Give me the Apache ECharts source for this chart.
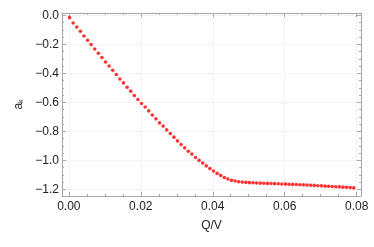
<!DOCTYPE html>
<html>
<head>
<meta charset="utf-8">
<script src="https://cdn.jsdelivr.net/npm/echarts@6/dist/echarts.min.js"></script>
<style>html,body{margin:0;padding:0;background:#fff;}#c{width:374px;height:247px;}</style>
</head>
<body>
<div id="c"></div>
<script>
var qv = [0.0002,0.0012,0.0022,0.0032,0.0042,0.0052,0.0062,0.0072,0.0082,0.0092,
          0.0102,0.0112,0.0122,0.0132,0.0142,0.0152,0.0162,0.0172,0.0182,0.0192,
          0.0202,0.0212,0.0222,0.0232,0.0242,0.0252,0.0262,0.0272,0.0282,0.0292,
          0.0302,0.0312,0.0322,0.0332,0.0342,0.0352,0.0362,0.0372,0.0382,0.0392,
          0.0402,0.0412,0.0422,0.0432,0.0442,0.0452,0.0462,0.0472,0.0482,0.0492,
          0.0502,0.0512,0.0522,0.0532,0.0542,0.0552,0.0562,0.0572,0.0582,0.0592,
          0.0602,0.0612,0.0622,0.0632,0.0642,0.0652,0.0662,0.0672,0.0682,0.0692,
          0.0702,0.0712,0.0722,0.0732,0.0742,0.0752,0.0762,0.0772,0.0782,0.0792];
var ak = [-0.016,-0.053,-0.081,-0.110,-0.143,-0.172,-0.202,-0.232,-0.262,-0.291,
          -0.322,-0.349,-0.379,-0.408,-0.439,-0.466,-0.496,-0.523,-0.553,-0.581,
          -0.608,-0.632,-0.659,-0.687,-0.714,-0.742,-0.764,-0.790,-0.815,-0.840,
          -0.866,-0.891,-0.914,-0.937,-0.957,-0.980,-1.000,-1.018,-1.038,-1.057,
          -1.074,-1.090,-1.104,-1.118,-1.129,-1.138,-1.143,-1.148,-1.150,-1.152,
          -1.154,-1.155,-1.156,-1.157,-1.158,-1.159,-1.160,-1.161,-1.162,-1.163,
          -1.164,-1.165,-1.166,-1.167,-1.168,-1.169,-1.171,-1.172,-1.173,-1.175,
          -1.176,-1.178,-1.179,-1.180,-1.182,-1.183,-1.185,-1.186,-1.188,-1.190];
var xTickLabels = ['0.00','0.02','0.04','0.06','0.08'];
var yTickLabels = ['0.0','\u22120.2','\u22120.4','\u22120.6','\u22120.8','\u22121.0','\u22121.2'];

var xMin = -0.0019, xMax = 0.0812, yMin = -1.246, yMax = 0.016;
var frame = '#a8a8a8', txt = '#222';
function near(v, step){ return Math.abs(v/step - Math.round(v/step)) < 1e-6; }
function xFmt(v){ if(!near(v,0.02)) return ''; var i=Math.round(v/0.02); return xTickLabels[i]||''; }
function yFmt(v){ if(!near(v,0.2)) return ''; var i=Math.round(-v/0.2); return yTickLabels[i]||''; }

function axisCommon(){
  return {
    axisLine:{show:true,onZero:false,lineStyle:{color:frame,width:1}},
    axisTick:{show:true,inside:true,length:4,lineStyle:{color:frame}},
    minorTick:{show:true,splitNumber:4,length:2,lineStyle:{color:frame}}
  };
}
var pts = qv.map(function(x,i){return [x, ak[i]];});
var chart = echarts.init(document.getElementById('c'), null, {renderer:'canvas'});
chart.setOption({
  animation:false,
  grid:{left:62,right:13,top:13,bottom:51,containLabel:false},
  xAxis:[
    Object.assign(axisCommon(),{type:'value',position:'bottom',min:xMin,max:xMax,splitNumber:5,
      name:'Q/V',nameLocation:'middle',nameGap:24,
      nameTextStyle:{fontFamily:'Liberation Sans',fontSize:12,color:txt},
      axisLabel:{show:true,formatter:xFmt,margin:5,fontFamily:'Liberation Sans',fontSize:12,color:txt},
      splitLine:{show:true,lineStyle:{color:'#e8e8e8',type:'dotted'}}}),
    Object.assign(axisCommon(),{type:'value',position:'top',min:xMin,max:xMax,splitNumber:5,
      axisLabel:{show:false},splitLine:{show:false}})
  ],
  yAxis:[
    Object.assign(axisCommon(),{type:'value',position:'left',min:yMin,max:yMax,splitNumber:6,
      name:'{a|a}{k|k}',nameLocation:'middle',nameGap:31,nameRotate:90,
      nameTextStyle:{fontFamily:'Liberation Sans',color:txt,rich:{
        a:{fontFamily:'Liberation Sans',fontSize:12,color:txt,verticalAlign:'bottom',lineHeight:13},
        k:{fontFamily:'Liberation Sans',fontSize:7,color:txt,verticalAlign:'bottom',lineHeight:13}}},
      axisLabel:{show:true,formatter:yFmt,margin:3,fontFamily:'Liberation Sans',fontSize:12,color:txt},
      splitLine:{show:true,lineStyle:{color:'#e8e8e8',type:'dotted'}}}),
    Object.assign(axisCommon(),{type:'value',position:'right',min:yMin,max:yMax,splitNumber:6,
      axisLabel:{show:false},splitLine:{show:false}})
  ],
  series:[{type:'scatter',data:pts,symbol:'circle',symbolSize:3.6,
    itemStyle:{color:'#ff0000'},xAxisIndex:0,yAxisIndex:0,silent:true}]
});
</script>
</body>
</html>
